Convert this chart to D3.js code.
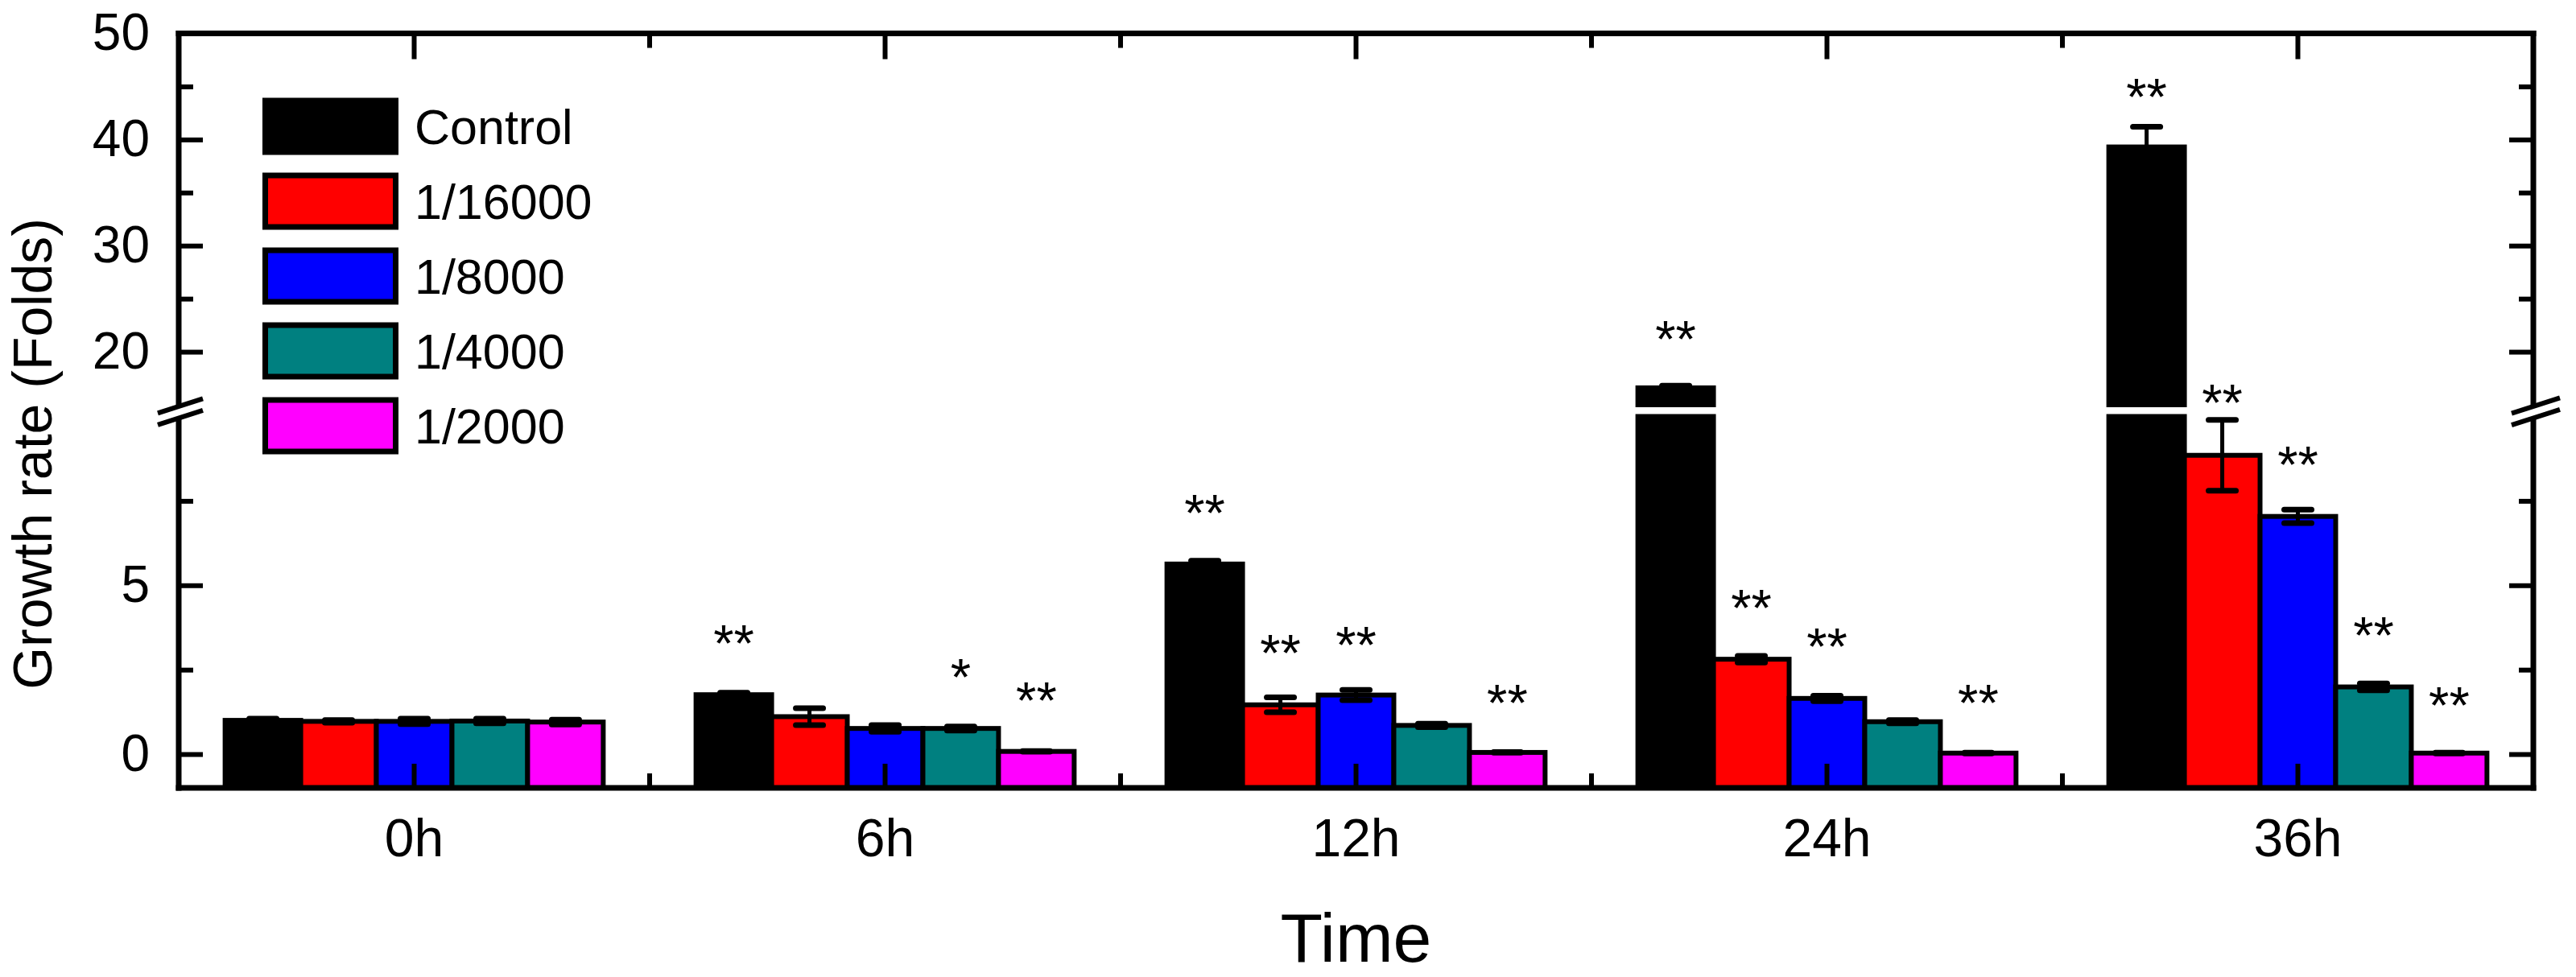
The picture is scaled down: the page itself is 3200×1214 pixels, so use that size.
<!DOCTYPE html>
<html><head><meta charset="utf-8">
<script src="https://cdn.jsdelivr.net/npm/d3@7"></script>
<style>body{margin:0;background:#fff;} svg text{font-family:"Liberation Sans",Arial,Helvetica,sans-serif;fill:#000;}</style>
</head><body><svg id="chart" width="3200" height="1214"></svg>
<script>
// ---------------- DATA ----------------
const groups = ["0h", "6h", "12h", "24h", "36h"];
const seriesNames = ["Control", "1/16000", "1/8000", "1/4000", "1/2000"];
const seriesColors = ["#000000", "#FF0000", "#0000FF", "#008080", "#FF00FF"];

const valControl = [1.00, 1.76, 5.63, 16.6, 39.3];
const val16000   = [0.97, 1.11, 1.46, 2.81, 8.85];
const val8000    = [0.97, 0.76, 1.75, 1.65, 7.04];
const val4000    = [0.98, 0.76, 0.85, 0.96, 1.99];
const val2000    = [0.95, 0.08, 0.05, 0.03, 0.03];

const errControl = [0.05, 0.06, 0.10, 0.20, 1.90];
const err16000   = [0.04, 0.25, 0.22, 0.10, 1.05];
const err8000    = [0.08, 0.10, 0.15, 0.08, 0.20];
const err4000    = [0.07, 0.06, 0.05, 0.05, 0.10];
const err2000    = [0.07, 0.01, 0.01, 0.01, 0.01];

// significance marks and the value (y, data units) of the mark's lower edge
const sigControl = ["", "**", "**", "**", "**"];
const sig16000   = ["", "", "**", "**", "**"];
const sig8000    = ["", "", "**", "**", "**"];
const sig4000    = ["", "*", "", "", "**"];
const sig2000    = ["", "**", "**", "**", "**"];
const sigPosControl = [0, 3.32, 7.18, 21.3, 44.1];
const sigPos16000   = [0, 0, 3.04, 4.37, 15.3];
const sigPos8000    = [0, 0, 3.27, 3.23, 8.61];
const sigPos4000    = [0, 2.32, 0, 0, 3.56];
const sigPos2000    = [0, 1.61, 1.56, 1.56, 1.49];

const lowerTicksMajor = [0, 5];
const lowerTicksMinor = [2.5, 7.5];
const upperTicksMajor = [20, 30, 40, 50];
const upperTicksMinor = [25, 35, 45];
const lowerDomain = [-1, 10];
const upperDomain = [15, 50];
const xTitle = "Time";
const yTitle = "Growth rate (Folds)";

// ---------------- LAYOUT ----------------
const values = [valControl, val16000, val8000, val4000, val2000];
const errors = [errControl, err16000, err8000, err4000, err2000];
const sigs = [sigControl, sig16000, sig8000, sig4000, sig2000];
const sigPos = [sigPosControl, sigPos16000, sigPos8000, sigPos4000, sigPos2000];

const L = 222, R = 3147, T = 41.5, B = 979;
const lowTop = 517.5, upBottom = 503;
const svg = d3.select("#chart");

const yLow = d3.scaleLinear().domain(lowerDomain).range([B, lowTop]);
const yUp = d3.scaleLinear().domain(upperDomain).range([upBottom, T]);
const y = v => v <= lowerDomain[1] ? yLow(v) : (v >= upperDomain[0] ? yUp(v) : (yLow(lowerDomain[1]) + yUp(upperDomain[0])) / 2);

const x = d3.scaleBand().domain(groups).range([L, R]).paddingInner(0.197).paddingOuter(0.0985);
const xs = d3.scaleBand().domain(seriesNames).range([0, x.bandwidth()]);

// ---------------- BARS ----------------
const barData = [];
groups.forEach((g, gi) => seriesNames.forEach((s, si) => {
  barData.push({g, s, si, v: values[si][gi], e: errors[si][gi], sig: sigs[si][gi], sp: sigPos[si][gi]});
}));

const bars = svg.append("g");
barData.forEach(d => {
  const bx = x(d.g) + xs(d.s);
  const bw = xs.bandwidth();
  const col = seriesColors[d.si];
  const topLow = d.v > lowerDomain[1] ? lowTop : yLow(d.v);
  bars.append("rect").attr("x", bx).attr("y", topLow).attr("width", bw).attr("height", B - topLow)
    .attr("fill", col).attr("stroke", "#000").attr("stroke-width", 6);
  if (d.v > upperDomain[0]) {
    bars.append("rect").attr("x", bx).attr("y", yUp(d.v)).attr("width", bw).attr("height", upBottom - yUp(d.v))
      .attr("fill", col).attr("stroke", "#000").attr("stroke-width", 6);
  }
});

// error bars
const eb = svg.append("g").attr("stroke", "#000");
barData.forEach(d => {
  const cx = x(d.g) + xs(d.s) + xs.bandwidth() / 2;
  const y1 = y(d.v + d.e), y2 = y(d.v - d.e);
  eb.append("line").attr("x1", cx).attr("x2", cx).attr("y1", y1).attr("y2", y2).attr("stroke-width", 5);
  [y1, y2].forEach(yy => eb.append("line").attr("x1", cx - 17).attr("x2", cx + 17).attr("y1", yy).attr("y2", yy)
    .attr("stroke-width", 7).attr("stroke-linecap", "round"));
});

// significance marks
const sg = svg.append("g");
barData.filter(d => d.sig).forEach(d => {
  const cx = x(d.g) + xs(d.s) + xs.bandwidth() / 2;
  sg.append("text").attr("x", cx).attr("y", y(d.sp) + 24).attr("text-anchor", "middle")
    .attr("font-size", 65).text(d.sig);
});

// ---------------- AXES ----------------
function styleAxis(g) {
  g.select(".domain").remove();
  g.selectAll(".tick line").attr("stroke", "#000").attr("stroke-width", 6);
  g.selectAll(".tick text").attr("font-size", 64).attr("fill", "#000");
}
// left
svg.append("g").attr("transform", `translate(${L},0)`)
  .call(d3.axisLeft(yLow).tickValues(lowerTicksMajor).tickSize(-30).tickPadding(36).tickFormat(d3.format("d"))).call(styleAxis);
svg.append("g").attr("transform", `translate(${L},0)`)
  .call(d3.axisLeft(yLow).tickValues(lowerTicksMinor).tickSize(-18).tickFormat("")).call(styleAxis);
svg.append("g").attr("transform", `translate(${L},0)`)
  .call(d3.axisLeft(yUp).tickValues(upperTicksMajor).tickSize(-30).tickPadding(36).tickFormat(d3.format("d"))).call(styleAxis);
svg.append("g").attr("transform", `translate(${L},0)`)
  .call(d3.axisLeft(yUp).tickValues(upperTicksMinor).tickSize(-18).tickFormat("")).call(styleAxis);
// right
[[yLow, lowerTicksMajor, 30], [yLow, lowerTicksMinor, 18], [yUp, upperTicksMajor, 30], [yUp, upperTicksMinor, 18]].forEach(([sc, tv, len]) => {
  svg.append("g").attr("transform", `translate(${R},0)`)
    .call(d3.axisRight(sc).tickValues(tv).tickSize(-len).tickFormat("")).call(styleAxis);
});
// bottom
svg.append("g").attr("transform", `translate(0,${B})`)
  .call(d3.axisBottom(x).tickSize(-30).tickPadding(38)).call(styleAxis)
  .selectAll(".tick text").attr("font-size", 66);
svg.append("g").attr("transform", `translate(0,${T})`)
  .call(d3.axisTop(x).tickSize(-32).tickFormat("")).call(styleAxis);
// minor x ticks between groups
const minorX = groups.slice(0, -1).map(g => x(g) + x.bandwidth() + (x.step() - x.bandwidth()) / 2);
const mx = svg.append("g").attr("stroke", "#000").attr("stroke-width", 6);
minorX.forEach(px => {
  mx.append("line").attr("x1", px).attr("x2", px).attr("y1", B).attr("y2", B - 18);
  mx.append("line").attr("x1", px).attr("x2", px).attr("y1", T).attr("y2", T + 18);
});

// frame
const fr = svg.append("g").attr("stroke", "#000").attr("stroke-width", 7).attr("fill", "none").attr("stroke-linecap", "square");
fr.append("line").attr("x1", L).attr("x2", R).attr("y1", T).attr("y2", T);
fr.append("line").attr("x1", L).attr("x2", R).attr("y1", B).attr("y2", B);
[L, R].forEach(ax => {
  fr.append("line").attr("x1", ax).attr("x2", ax).attr("y1", T).attr("y2", upBottom);
  fr.append("line").attr("x1", ax).attr("x2", ax).attr("y1", lowTop).attr("y2", B);
});

// axis break marks
const slope = 0.32;
[[L, -26, 30], [R, -27, 33]].forEach(([ax, dl, dr]) => {
  const g = svg.append("g");
  const yA = upBottom + 2, yB = lowTop + 2;
  const pt = (x0, yy) => [x0, yy - (x0 - ax) * slope];
  const p1 = pt(ax + dl, yA), p2 = pt(ax + dr, yA), p3 = pt(ax + dr, yB), p4 = pt(ax + dl, yB);
  g.append("polygon").attr("points", [p1, p2, p3, p4].map(p => p.join(",")).join(" ")).attr("fill", "#fff");
  g.append("line").attr("x1", p1[0]).attr("y1", p1[1]).attr("x2", p2[0]).attr("y2", p2[1]).attr("stroke", "#000").attr("stroke-width", 6);
  g.append("line").attr("x1", p4[0]).attr("y1", p4[1]).attr("x2", p3[0]).attr("y2", p3[1]).attr("stroke", "#000").attr("stroke-width", 6);
});

// titles
svg.append("text").attr("x", (L + R) / 2).attr("y", 1195).attr("text-anchor", "middle").attr("font-size", 86).text(xTitle);
svg.append("text").attr("transform", "translate(64,564) rotate(-90)").attr("text-anchor", "middle").attr("font-size", 68).text(yTitle);

// legend
const lg = svg.append("g");
seriesNames.forEach((s, i) => {
  const cy = 157 + i * 93;
  lg.append("rect").attr("x", 329.5).attr("y", cy - 32).attr("width", 162).attr("height", 64)
    .attr("fill", seriesColors[i]).attr("stroke", "#000").attr("stroke-width", 7);
  lg.append("text").attr("x", 515).attr("y", cy).attr("dy", "0.36em").attr("font-size", 61).text(s);
});
</script></body></html>
